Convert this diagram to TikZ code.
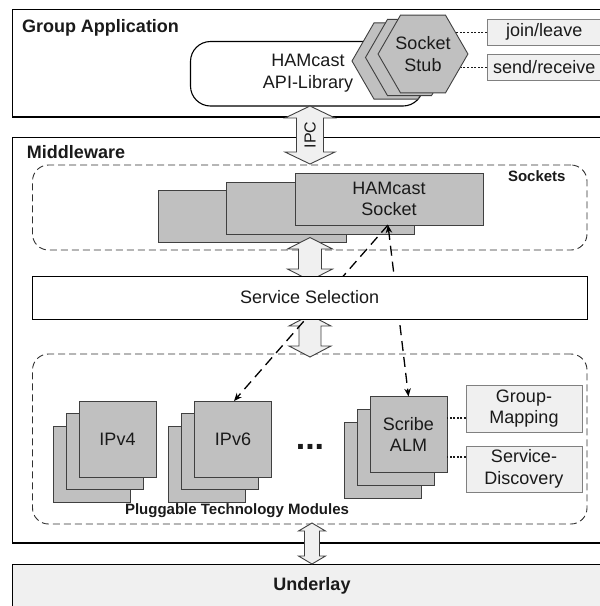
\documentclass[tikz,border=0pt]{standalone}
\usepackage{fontspec}
\setmainfont{Liberation Sans}
\usetikzlibrary{shapes.geometric,arrows.meta,calc,fit}

\definecolor{modgray}{HTML}{C0C0C0}
\definecolor{edgegray}{HTML}{404040}
\definecolor{lightfill}{HTML}{F0F0F0}
\definecolor{lightedge}{HTML}{808080}
\definecolor{ink}{HTML}{1A1A1A}

% two-headed block arrow: centre x, top y, bottom y, half shaft, half head, head length
\newcommand{\twoway}[6]{%
  \draw[blockarrow] (#1,#2) -- (#1+#5,#2+#6) -- (#1+#4,#2+#6) -- (#1+#4,#3-#6)
    -- (#1+#5,#3-#6) -- (#1,#3) -- (#1-#5,#3-#6) -- (#1-#4,#3-#6)
    -- (#1-#4,#2+#6) -- (#1-#5,#2+#6) -- cycle;}

\begin{document}
\begin{tikzpicture}[x=1pt,y=-1pt,
  every node/.style={font=\fontsize{18}{21.5}\selectfont, text=ink, inner sep=0pt, outer sep=0pt},
  layerbox/.style={draw=black, line width=1.6pt},
  title/.style={font=\fontsize{18}{21.5}\selectfont\bfseries},
  smalltitle/.style={font=\fontsize{15}{18}\selectfont\bfseries},
  module/.style={draw=edgegray, fill=modgray, line width=0.9pt, minimum width=77pt, minimum height=76pt, align=center},
  sockbox/.style={draw=edgegray, fill=modgray, line width=0.9pt, minimum width=188pt, minimum height=52pt, align=center},
  hexa/.style={regular polygon, regular polygon sides=6, minimum size=88pt, draw=edgegray, fill=modgray, line width=0.9pt, align=center},
  tagbox/.style={draw=lightedge, fill=lightfill, line width=0.9pt, align=center},
  groupbox/.style={draw=ink!90, dash pattern=on 7pt off 4pt, line width=0.9pt, rounded corners=16pt},
  blockarrow/.style={draw=edgegray, fill=lightfill, line width=0.9pt, line join=miter},
  dotline/.style={draw=ink, dash pattern=on 2pt off 1.6pt, line width=1.1pt},
  flow/.style={draw=black, line width=1.3pt, dash pattern=on 10pt off 6pt},
  tip/.tip={Stealth[length=8pt,width=6.5pt]},
]
\useasboundingbox (0,0) rectangle (600,606);

% ---------- layers ----------
\node[layerbox, fit={(12.5,9.5) (606,117)}] (app) {};
\node[layerbox, fit={(12.5,137.5) (606,543)}] (mw) {};
\node[layerbox, fill=lightfill, fit={(12.5,564.5) (606,612)}] (underlay) {};

\node[title, anchor=west] (apptitle) at (22,27.5) {Group Application};
\node[title, anchor=west] (mwtitle) at (27,152.5) {Middleware};
\node[title] (underlaytitle) at (312,586) {Underlay};

% ---------- application layer ----------
\node[draw=black, line width=1.1pt, rounded corners=20pt, fill=white,
      fit={(190.5,41.5) (423,106)}] (api) {};
\node[align=center] (apitext) at (308,73) {HAMcast\\API-Library};

\node[tagbox, minimum width=114.5pt, minimum height=25.5pt] (join) at (544.25,32.25) {join/leave};
\node[tagbox, minimum width=114.5pt, minimum height=25.5pt] (sendrecv) at (544.25,67.25) {send/receive};

\coordinate (stubc) at (423,54);
\draw[dotline] (join.west) -- (join.west -| stubc);
\draw[dotline] (sendrecv.west) -- (sendrecv.west -| stubc);

\node[hexa] (stub3) at (396,61) {};
\node[hexa] (stub2) at (409.5,57.5) {};
\node[hexa] (stub) at (stubc) {Socket\\Stub};

% ---------- sockets ----------
\node[groupbox, fit={(32.5,165) (587,250)}] (sockets) {};
\node[smalltitle, anchor=base west] (socketstitle) at (508,181.5) {Sockets};

\node[sockbox] (sock3) at (252,216.5) {};
\node[sockbox] (sock2) at (320.5,208) {};
\node[sockbox] (sock) at (389,199) {HAMcast\\Socket};

% ---------- technology modules ----------
\node[groupbox, fit={(32.5,354) (587,524)}] (ptm) {};
\node[smalltitle, anchor=base] (ptmtitle) at (237,514.5) {Pluggable Technology Modules};

\node[module] (ipv4c) at (92,464.5) {};
\node[module] (ipv4b) at (104.5,451.5) {};
\node[module] (ipv4) at (117.5,439) {IPv4};

\node[module] (ipv6c) at (207,464.5) {};
\node[module] (ipv6b) at (220,451.5) {};
\node[module] (ipv6) at (233,439) {IPv6};

\node[font=\fontsize{34}{34}\selectfont\bfseries] (more) at (310,447) {...};

\node[module] (almc) at (382.5,460.5) {};
\node[module] (almb) at (395.5,447.5) {};
\node[module] (alm) at (408.5,434.5) {Scribe\\ALM};

\node[tagbox, minimum width=116pt, minimum height=47pt] (gm) at (524,408.5) {Group-\\Mapping};
\node[tagbox, minimum width=116pt, minimum height=46pt] (sd) at (524,469) {Service-\\Discovery};

\coordinate (gmlink) at ($(gm.west)+(0,9.5)$);
\coordinate (sdlink) at ($(sd.west)+(0,-12)$);
\draw[dotline] (gmlink) -- (gmlink -| alm.east);
\draw[dotline] (sdlink) -- (sdlink -| alm.east);

% ---------- block arrows between layers ----------
\twoway{310}{106}{164}{13.5}{25}{12}
\node[rotate=90, font=\fontsize{16}{18}\selectfont] (ipc) at (310,135) {IPC};
\twoway{310}{237.5}{280.5}{11.5}{22.5}{11.5}
\twoway{310}{315}{357}{11}{21}{11}
\twoway{312}{523}{564}{7.5}{13.5}{8}

% ---------- data paths from the socket to the modules ----------
\coordinate (sockport) at ($(sock.south)+(-1,0)$);
\draw[flow, -tip] (sockport) -- ($(ipv6.north)+(1,0)$);
\draw[flow, tip-tip] (sockport) -- (alm.north);

% ---------- service selection ----------
\node[draw=black, line width=0.9pt, fill=white, minimum width=554.5pt, minimum height=43pt]
  (sel) at (309.75,297.5) {Service Selection};

\end{tikzpicture}
\end{document}
